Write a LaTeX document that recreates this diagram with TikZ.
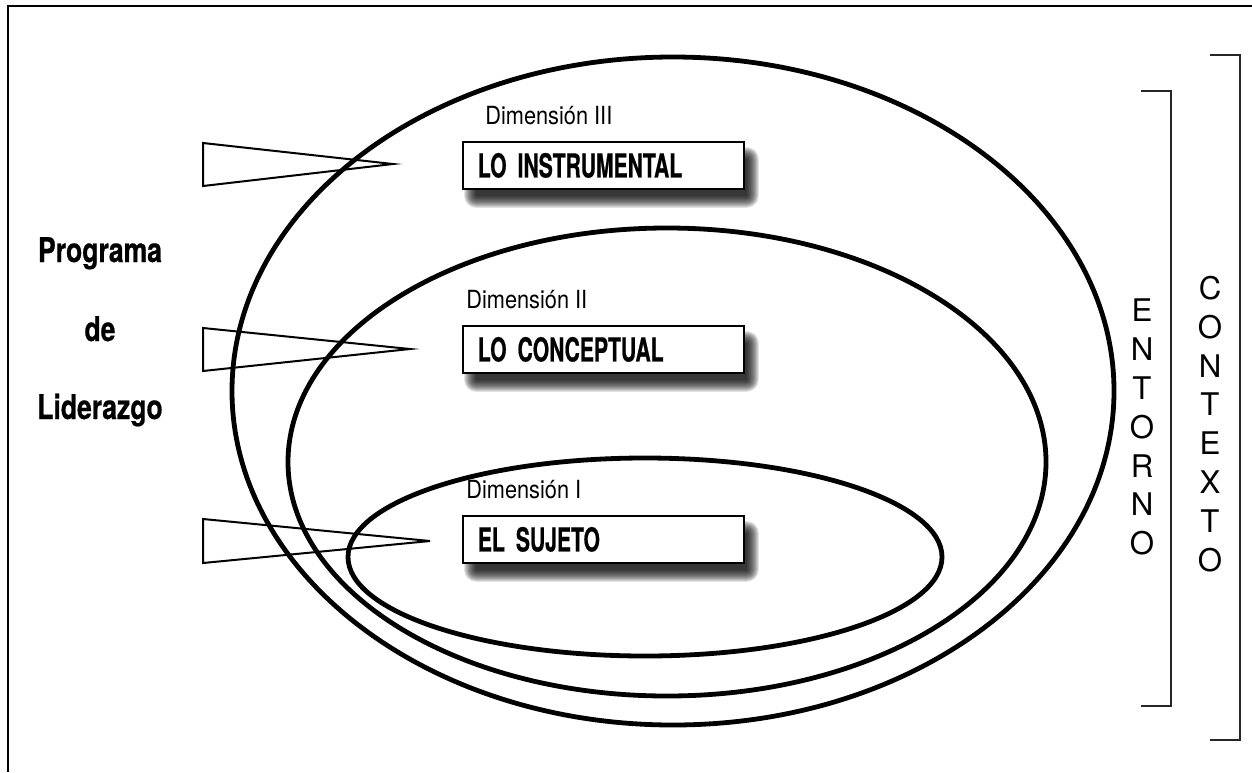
\documentclass[tikz,border=0pt]{standalone}
\usepackage{fontspec}
\setmainfont{TeX Gyre Heros}
\newfontfamily\cnfont[FakeStretch=0.64,FakeBold=0.6]{TeX Gyre Heros}
\newfontfamily\prfont[FakeStretch=0.78,FakeBold=0.6]{TeX Gyre Heros}
\newfontfamily\dmfont[FakeStretch=0.87]{TeX Gyre Heros}
\usetikzlibrary{backgrounds}

\begin{document}
\begin{tikzpicture}[x=0.5pt,y=-0.5pt,
  ring/.style={line width=2.4pt},
  wedge/.style={line width=1pt,line join=miter},
  dimbox/.style={draw,line width=0.9pt,fill=white,anchor=north west,
    minimum height=23.5pt,text width=125.5pt,inner xsep=7.5pt,align=left,
    font=\cnfont\bfseries\fontsize{16.5}{18}\selectfont},
  dimlabel/.style={anchor=base west,inner sep=0pt,font=\dmfont\fontsize{12.5}{15}\selectfont},
  vword/.style={align=center,inner sep=0pt,font=\fontsize{15.6}{19.45}\selectfont},
  prog/.style={anchor=base,font=\prfont\bfseries\fontsize{17}{19}\selectfont},
  brk/.style={line width=1pt,black!85}]
\useasboundingbox (0,0) rectangle (1252,772);

% marco
\draw[line width=1.2pt] (1252,6) -- (8,6) -- (8,772);

% dimensiones
\draw[ring] (673,391) ellipse [x radius=441, y radius=334];
\draw[ring] (667,462) ellipse [x radius=379, y radius=234];
\draw[ring] (645,557) ellipse [x radius=297, y radius=99];

\node[dimbox] (inst) at (462,141) {LO INSTRUMENTAL};
\node[dimbox] (conc) at (462,325) {LO CONCEPTUAL};
\node[dimbox] (suj) at (462,515) {EL SUJETO};

\node[dimlabel] (d3) at ([shift={(23,-17)}]inst.north west) {Dimensión III};
\node[dimlabel] (d2) at ([shift={(4,-17)}]conc.north west) {Dimensión II};
\node[dimlabel] (d1) at ([shift={(4,-17)}]suj.north west) {Dimensión I};

\begin{scope}[on background layer]
\foreach \b in {inst,conc,suj}
  \foreach \s in {0,...,12}
    \fill[black,opacity=0.11,rounded corners={\s*0.5pt}]
      ([shift={({14-\s},{18-\s})}]\b.north west) rectangle ([shift={({2+\s},{6+\s})}]\b.south east);
\end{scope}

% cunas
\draw[wedge] (203,143) -- (393,164) -- (203,186) -- cycle;
\draw[wedge] (203,328) -- (410,349) -- (203,371) -- cycle;
\draw[wedge] (203,519) -- (430,541) -- (203,563) -- cycle;

\node[prog] (prg) at (100,262) {Programa};
\node[prog] (de) at (100,341) {de};
\node[prog] (lid) at (100,419) {Liderazgo};

% entorno y contexto
\node[vword] (ent) at (1142,427) {E\\N\\T\\O\\R\\N\\O};
\node[vword] (cont) at (1210,424) {C\\O\\N\\T\\E\\X\\T\\O};

\draw[brk] (1141,91) -- (1171,91) -- (1171,706) -- (1141,706);
\draw[brk] (1210,55) -- (1240,55) -- (1240,740) -- (1210,740);

\end{tikzpicture}
\end{document}
